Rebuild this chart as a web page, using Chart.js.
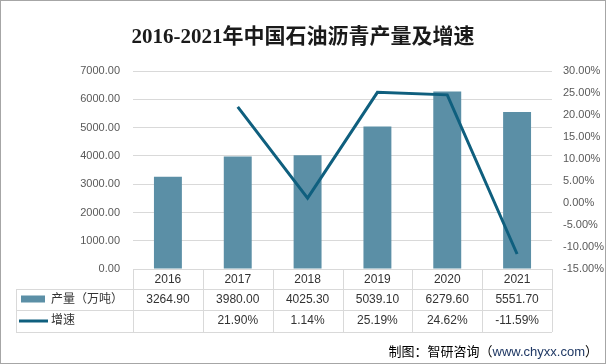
<!DOCTYPE html>
<html>
<head>
<meta charset="utf-8">
<script src="https://cdn.jsdelivr.net/npm/chart.js@4/dist/chart.umd.min.js"></script>
<style>
body { margin: 0; background: #fff; }
#box { width: 606px; height: 364px; }
</style>
</head>
<body>
<div id="box"><canvas id="grafico"></canvas></div>
<script>
// Dati del grafico
var anni = ['2016', '2017', '2018', '2019', '2020', '2021'];
var produzione = [3264.90, 3980.00, 4025.30, 5039.10, 6279.60, 5551.70];
var crescita = [null, 21.90, 1.14, 25.19, 24.62, -11.59];
var etichette = ['产量（万吨）', '增速'];
var titolo = '2016-2021年中国石油沥青产量及增速';
var fonte = ['制图：智研咨询（', 'www.chyxx.com', '）'];

var coloreBarra = '#5b8fa6';
var coloreLinea = '#0f5f7e';
var coloreGriglia = '#d9d9d9';
var coloreTesto = '#333333';
var fontTesto = '"Liberation Sans", "Noto Sans CJK SC", sans-serif';

Chart.defaults.font.family = fontTesto;

var pluginTabella = { // Disegna la tabella dati sotto il grafico, le note e il bordo
    id: 'tabella',
    afterDraw: function (chart) {
        var ctx = chart.ctx;
        var x = chart.scales.x;
        var top = chart.chartArea.bottom;
        var righe = [top, top + 20, top + 41, top + 63];
        var passo = x.getPixelForValue(1) - x.getPixelForValue(0);
        var sinistra = 16;
        var destra = x.getPixelForValue(anni.length - 1) + passo / 2;

        ctx.save();
        ctx.strokeStyle = coloreGriglia;
        ctx.lineWidth = 1;
        ctx.beginPath();
        ctx.moveTo(x.left, righe[0] + 0.5); // riga in alto solo sopra le colonne
        ctx.lineTo(destra, righe[0] + 0.5);
        for (var r = 1; r < righe.length; r++) {
            ctx.moveTo(sinistra, righe[r] + 0.5);
            ctx.lineTo(destra, righe[r] + 0.5);
        }
        ctx.moveTo(sinistra + 0.5, righe[1]);
        ctx.lineTo(sinistra + 0.5, righe[3]);
        for (var i = 0; i <= anni.length; i++) {
            var xi = Math.round(x.getPixelForValue(0) - passo / 2 + i * passo) + 0.5;
            ctx.moveTo(xi, righe[0]);
            ctx.lineTo(xi, righe[3]);
        }
        ctx.stroke();

        // legenda dentro la tabella
        var y2 = (righe[1] + righe[2]) / 2;
        var y3 = (righe[2] + righe[3]) / 2;
        ctx.fillStyle = coloreBarra;
        ctx.fillRect(21, y2 - 4, 24, 7);
        ctx.strokeStyle = coloreLinea;
        ctx.lineWidth = 3;
        ctx.beginPath();
        ctx.moveTo(19, y3);
        ctx.lineTo(48, y3);
        ctx.stroke();

        ctx.fillStyle = coloreTesto;
        ctx.font = '12px ' + fontTesto;
        ctx.textBaseline = 'middle';
        ctx.textAlign = 'left';
        ctx.fillText(etichette[0], 51, y2);
        ctx.fillText(etichette[1], 51, y3);

        ctx.textAlign = 'center';
        for (var j = 0; j < anni.length; j++) {
            var cx = x.getPixelForValue(j);
            ctx.fillText(produzione[j].toFixed(2), cx, y2);
            if (crescita[j] !== null) {
                ctx.fillText(crescita[j].toFixed(2) + '%', cx, y3);
            }
        }

        // fonte in basso a destra
        ctx.font = '13px ' + fontTesto;
        ctx.textAlign = 'right';
        var fx = 598;
        var colori = ['#000000', '#1f3864', '#000000'];
        for (var k = fonte.length - 1; k >= 0; k--) {
            ctx.fillStyle = colori[k];
            ctx.fillText(fonte[k], fx, 352);
            fx -= ctx.measureText(fonte[k]).width;
        }

        // bordo esterno
        ctx.strokeStyle = '#a6a6a6';
        ctx.lineWidth = 1;
        ctx.strokeRect(0.5, 0.5, chart.width - 1, chart.height - 1);
        ctx.restore();
    }
};

var grafico = new Chart(document.getElementById('grafico'), {
    type: 'bar',
    data: {
        labels: anni,
        datasets: [{
            type: 'line',
            label: etichette[1],
            data: crescita,
            yAxisID: 'y1',
            borderColor: coloreLinea,
            borderWidth: 3,
            pointRadius: 0,
            tension: 0,
            order: 0
        }, {
            type: 'bar',
            label: etichette[0],
            data: produzione,
            yAxisID: 'y',
            backgroundColor: coloreBarra,
            barPercentage: 0.4,
            categoryPercentage: 1,
            order: 1
        }]
    },
    options: {
        responsive: true,
        maintainAspectRatio: false,
        animation: false,
        layout: { padding: 0 },
        plugins: {
            legend: { display: false },
            tooltip: { enabled: false },
            title: {
                display: true,
                text: titolo,
                color: '#1a1a1a',
                font: { size: 21, weight: 'bold', family: '"Liberation Serif", "Noto Sans CJK SC", serif' },
                padding: { top: 25, bottom: 21 }
            }
        },
        scales: {
            x: {
                grid: { display: false, drawTicks: false },
                border: { display: false },
                ticks: { color: coloreTesto, font: { size: 12 }, padding: 3, maxRotation: 0 },
                afterFit: function (scale) { scale.height = 95; }
            },
            y: {
                position: 'left',
                min: 0,
                max: 7000,
                ticks: {
                    stepSize: 1000,
                    color: '#595959',
                    font: { size: 11 },
                    padding: 13,
                    callback: function (v) { return v.toFixed(2); }
                },
                grid: { color: coloreGriglia, drawTicks: false },
                border: { display: false },
                afterFit: function (scale) { scale.width = 133; }
            },
            y1: {
                position: 'right',
                min: -15,
                max: 30,
                ticks: {
                    stepSize: 5,
                    color: '#595959',
                    font: { size: 11 },
                    padding: 11,
                    callback: function (v) { return v.toFixed(2) + '%'; }
                },
                grid: { display: false, drawTicks: false },
                border: { display: false },
                afterFit: function (scale) { scale.width = 54; }
            }
        }
    },
    plugins: [pluginTabella]
});
</script>
</body>
</html>
